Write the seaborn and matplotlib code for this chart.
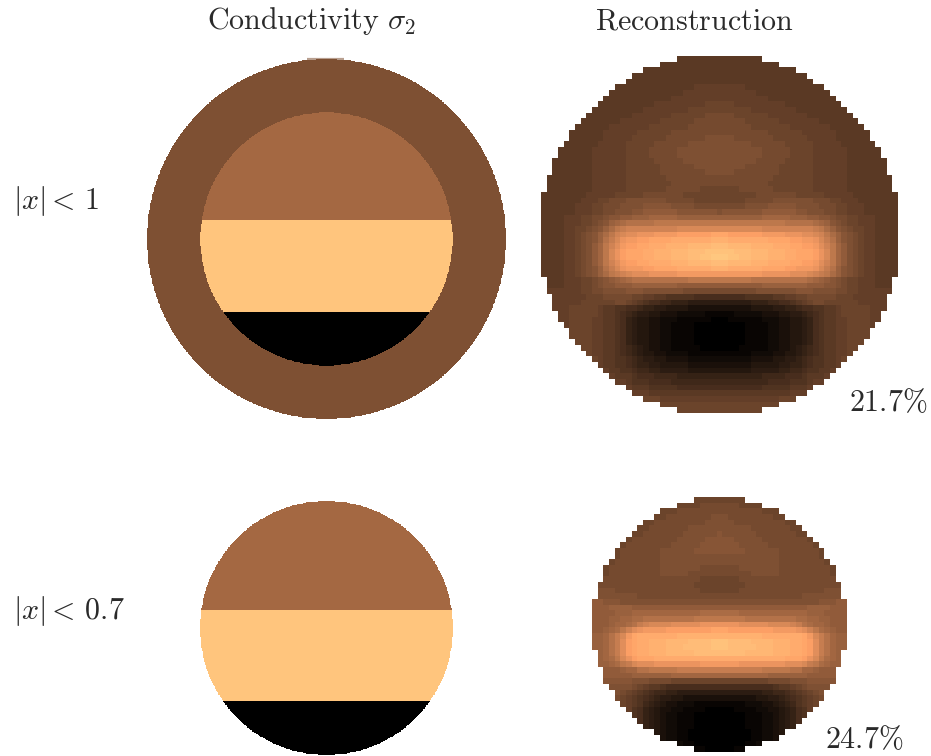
import numpy as np
import matplotlib
matplotlib.use("Agg")
import matplotlib.pyplot as plt
import seaborn as sns

sns.set_theme(style="white")
plt.rcParams["mathtext.fontset"] = "cm"

W, H = 931, 756
TEXT = "#2a2a2a"

# Piecewise conductivity levels (copper scale 0..1)
RIM_LEVEL = 0.40
UPPER_LEVEL = 0.52
MIDDLE_LEVEL = 0.985
LOWER_LEVEL = 0.0
# Band limits measured as fractions of the inner disc radius
BAND_TOP = 0.146
BAND_BOTTOM = -0.573
INNER_FRACTION = 0.703

LEVELS = "0123456789abcdefghijklmnopqrstuvwxyz"

# Reconstructions: half rows, written rim -> centre
RECON_FULL = [
    "aaaaaaaa", "aaaaaaaaaaa", "aaaaaaaaaaaaaa", "aaaaaaaaaaaaaaaa", "aaaaaaaaaaaaaaaaa",
    "aaaaaaaaaaaaaabbbbb", "aaaaaaaaaaaaabbbbbbb", "aaaaaaaaaaaabbbbbbbbb",
    "aaaaaaaaaabbbbbbbbbccc", "aaaaaaaaabbbbbbbbcccccc", "aaaaaaaabbbbbbbccccccddd",
    "aaaaaaabbbbbbbccccccddddd", "aaaaaabbbbbbbcccccccdddddd", "aaaaaabbbbbbccccccddddddddd",
    "aaaaaabbbbbccccccdddddddeee", "aaaaaabbbbbcccccddddddeeeeee", "aaaaaabbbbbbccccdddddeeeeeeee",
    "aaaaaabbbbbbccccdddddeeeeeeee", "aaaaaaabbbbbbcccccdddddeeeeeee", "aaaaaaabbbbbbccccccddddddeeeee",
    "aaaaaaabbbbbbccccccddddddddeee", "aaaaaaaabbbbbbcccccccdddddddddd", "aaaaaaaabbbbbbccccccccddddddddd",
    "aaaaaaaabbbbbbcccccccddddddcccc", "aaaaaaaabbbbbcccccdddddddccccccc",
    "aaaaaaabbbccddde" + "eeeeeedddddccccc", "aaaaaabbbccdddee" + "eefffffeeeeddddd",
    "aaaaaabbbccddeee" + "ffggggggfffffffe", "aaaabbbccddeffgg" + "hhhiiiiihhhhhhhh",
    "aaaabbbccdefhijk" + "kkkkllllllllllll", "aaaabbccdefhjlmn" + "nnnnnnnnoooooooo",
    "aaaabbcdefhjlnop" + "pqqqrrrrsssssstt", "aaaabbcdefhkmoqr" + "rssttttuuuuuuuvv",
    "aaaabbcdegilnprs" + "sttuuuvvvvwwwwxx", "aaaabbcdegiloqst" + "ttuuvvvwwwxxxyyy",
    "aaaabbcdegiloqst" + "ttuuvvvwwwxxyyzz", "aaaabbcdegilnprs" + "sttuuuuvvvwwwwxx",
    "aaaabbcdefhkmoqr" + "rrssttttuuuuuuvv", "aaaabbcdefhjlmno" + "pppqqqqqrrrrrrrr",
    "aaabbbccdefghij" + "kkkkkkkkkkllllll", "aaabbbccdeffggg" + "hhhhhhhhgggggggg",
    "bbbbbbccddeeeef" + "ffeeeeeeeddddddd", "bbbbbbcccddddd" + "ccbbaa9999988888",
    "bbbbbccccccddc" + "ba98877666555555", "bbbcccccbaa998" + "8766554444333333",
    "bbcccccbaa987" + "6554433322222111", "bbccccbbaa986" + "5443322211111100",
    "bccccbbaa986" + "5443322111100000", "ccccbbaa986" + "5443322111100000",
    "ccccbbaa986" + "5443322111100000", "cccbbaa986" + "5443322111100000",
    "ccbbaa987" + "6543322111110000", "cbbaa987" + "6544332222111111",
    "cbaa998" + "7655443333222222", "baa998" + "7665544444333333",
    "baa99" + "8776655555444444", "baaa" + "9888777766666666",
    "bba" + "9998888777777777", "b" + "aaa9999988888888", "bbbaaaaaaaaaaaaa",
    "cccbbbbbbbbbbb", "ccccccccccc", "cccccccc",
]
RECON_SMALL = [
    "ccccc", "ccccdddd", "cccdddddddd", "ccddddddddee", "ccdddddddddeee", "ccdddddddeeeeee",
    "ccdddddddeeeeeef", "cddddddddeeeeefff", "cddddddddeeeeeffff", "cdddddddeeeeeefffff",
    "cdddddddeeeeeeeeeee", "cddddddddeeeeeeeeeee", "cdddddddddeeeeeeedddd", "cdddddddddeeeeedddddd",
    "dddddddddddddddddcccc", "dddddddddddddddddccccc", "eeedddddddddddddddcccc",
    "eeeeeeeddddddddddddddd", "ggfffeeeeeeeeeeeeeeeeee", "ggghhhhgggggggggggggggg",
    "gggghhhiiiiiiiiiiiijjjj", "ggghhiijjkkkkkkkkklllll", "ggghiijkmnoooopppppqqqq",
    "gghijlnpqrrrrsssssssstt", "hhikmortuuuuuuuvvvvvvvv", "hhikmpstuuvvvwwwwxxxxyy",
    "hhikmpstuuvvvwwwxxxxxyy", "hikmpstuuvvvwwwwwxxxxx", "hijloqstttuuuuuuuuuuuu",
    "hhijlmopppqqqqqqqqrrrr", "ggghiikklllllmmmmmmmm", "ggggghhhhhhhiiiiiiiii",
    "fffffeeeddddccccccccc", "eeeedcbaa98888888888", "edcba98776655555555",
    "dcba987655443333333", "cba976543322211111", "b9865433221111000", "9865432211100000",
    "865432211100000", "65432211100000", "432211000000", "32211000000", "21100000", "11000",
]

TITLES = [r"$\mathrm{Conductivity}\ \sigma_2$", r"$\mathrm{Reconstruction}$"]
ROW_LABELS = [r"$|x|<\,1$", r"$|x|<\,0.7$"]
ERRORS = [r"$21.7\%$", r"$24.7\%$"]


def pixel_axes(fig, x0, y0, x1, y1):
    return fig.add_axes([x0 / W, 1 - y1 / H, (x1 - x0) / W, (y1 - y0) / H])


def decode(rows):
    half = max(len(r) for r in rows)
    out = np.full((len(rows), 2 * half - 1), np.nan)
    for i, row in enumerate(rows):
        vals = [LEVELS.index(c) / 35 for c in row[-half:]]
        vals = [np.nan] * (half - len(vals)) + vals
        out[i] = vals + vals[-2::-1]
    return out


def phantom(n, with_rim):
    c = (np.arange(n) + 0.5) / n * 2 - 1
    xx, yy = np.meshgrid(c, -c)
    rr = np.hypot(xx, yy)
    scale = INNER_FRACTION if with_rim else 1.0
    grid = np.full((n, n), np.nan)
    if with_rim:
        grid[rr <= 1] = RIM_LEVEL
    inner = rr <= scale
    v = yy / scale
    grid[inner & (v >= BAND_TOP)] = UPPER_LEVEL
    grid[inner & (v < BAND_TOP) & (v >= BAND_BOTTOM)] = MIDDLE_LEVEL
    grid[inner & (v < BAND_BOTTOM)] = LOWER_LEVEL
    return grid


def draw(ax, grid):
    sns.heatmap(grid, ax=ax, cmap="copper", vmin=0, vmax=1, cbar=False,
                mask=np.isnan(grid), xticklabels=False, yticklabels=False)
    ax.set_xlabel("")
    ax.set_ylabel("")
    for s in ax.spines.values():
        s.set_visible(False)


fig = plt.figure(figsize=(W / 100, H / 100), dpi=100, facecolor="white")

ax_a = pixel_axes(fig, 147, 59, 506, 419)
draw(ax_a, phantom(540, True))
ax_a.hlines(0, 241, 297, color=plt.get_cmap("copper")(RIM_LEVEL), alpha=0.55,
            lw=1.6, clip_on=False)

draw(pixel_axes(fig, 541, 56, 898, 413), decode(RECON_FULL))
draw(pixel_axes(fig, 200, 501, 453, 755), phantom(400, False))
draw(pixel_axes(fig, 592, 497, 847, 752), decode(RECON_SMALL))


def label(x, y, s, ha="center", size=21.6):
    fig.text(x / W, 1 - y / H, s, ha=ha, va="center", fontsize=size, color=TEXT)


label(311, 21, TITLES[0])
label(694, 21, TITLES[1])
label(13, 201, ROW_LABELS[0], ha="left")
label(13, 611, ROW_LABELS[1], ha="left")
label(928, 403, ERRORS[0], ha="right")
label(904, 740, ERRORS[1], ha="right")

fig.savefig("out.png", dpi=100, facecolor="white")
